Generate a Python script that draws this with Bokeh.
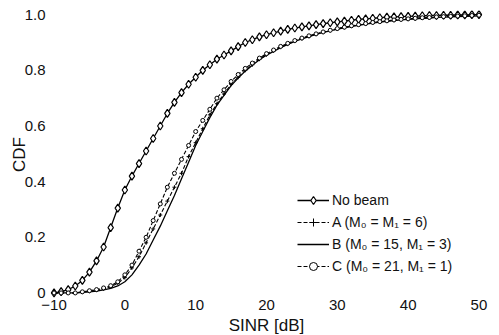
from bokeh.plotting import figure
from bokeh.models import Range1d, FixedTicker, Legend, LegendItem
from bokeh.embed import file_html
from bokeh.resources import INLINE

# SINR grid (dB)
sinr = list(range(-10, 51))

no_beam = [0.0, 0.005, 0.012, 0.025, 0.045, 0.075, 0.115, 0.165, 0.235, 0.305, 0.37,
           0.42, 0.465, 0.51, 0.555, 0.60, 0.645, 0.685, 0.72, 0.75, 0.775,
           0.80, 0.82, 0.84, 0.855, 0.87, 0.885, 0.90, 0.91, 0.92, 0.928,
           0.935, 0.941, 0.947, 0.952, 0.956, 0.960, 0.964, 0.968, 0.971, 0.974,
           0.977, 0.980, 0.983, 0.985, 0.987, 0.989, 0.991, 0.992, 0.993, 0.994,
           0.995, 0.996, 0.997, 0.997, 0.998, 0.998, 0.999, 0.999, 1.0, 1.0]

beam_a = [0.0, 0.0, 0.0, 0.0, 0.003, 0.006, 0.01, 0.015, 0.022, 0.035, 0.055,
          0.09, 0.13, 0.18, 0.23, 0.28, 0.33, 0.38, 0.43, 0.49, 0.54,
          0.59, 0.64, 0.68, 0.715, 0.75, 0.775, 0.80, 0.82, 0.84, 0.856,
          0.87, 0.883, 0.894, 0.905, 0.914, 0.922, 0.93, 0.937, 0.943, 0.949,
          0.954, 0.959, 0.963, 0.967, 0.971, 0.974, 0.977, 0.980, 0.982, 0.984,
          0.986, 0.988, 0.989, 0.991, 0.992, 0.993, 0.994, 0.995, 0.996, 0.997]

beam_b = [0.0, 0.0, 0.0, 0.0, 0.002, 0.004, 0.007, 0.011, 0.016, 0.025, 0.04,
          0.065, 0.10, 0.14, 0.19, 0.24, 0.295, 0.35, 0.41, 0.47, 0.53,
          0.58, 0.63, 0.675, 0.71, 0.745, 0.772, 0.797, 0.818, 0.838, 0.854,
          0.868, 0.881, 0.893, 0.904, 0.913, 0.921, 0.929, 0.936, 0.942, 0.948,
          0.953, 0.958, 0.962, 0.966, 0.970, 0.973, 0.976, 0.979, 0.981, 0.983,
          0.985, 0.987, 0.988, 0.990, 0.991, 0.992, 0.993, 0.994, 0.995, 0.996]

beam_c = [0.0, 0.0, 0.0, 0.0, 0.004, 0.008, 0.012, 0.018, 0.026, 0.04, 0.065,
          0.10, 0.15, 0.20, 0.26, 0.32, 0.38, 0.43, 0.48, 0.53, 0.58,
          0.62, 0.66, 0.70, 0.73, 0.76, 0.785, 0.807, 0.826, 0.844, 0.86,
          0.873, 0.886, 0.897, 0.907, 0.916, 0.924, 0.931, 0.938, 0.944, 0.950,
          0.955, 0.960, 0.964, 0.968, 0.972, 0.975, 0.978, 0.981, 0.983, 0.985,
          0.987, 0.989, 0.990, 0.992, 0.993, 0.994, 0.995, 0.996, 0.997, 0.998]

x_ticks = [-10, 0, 10, 20, 30, 40, 50]
y_ticks = [0, 0.2, 0.4, 0.6, 0.8, 1.0]
y_tick_labels = {0: "0", 0.2: "0.2", 0.4: "0.4", 0.6: "0.6", 0.8: "0.8", 1.0: "1.0"}

labels = ["No beam", "A (M\u2080 = M\u2081 = 6)", "B (M\u2080 = 15, M\u2081 = 3)", "C (M\u2080 = 21, M\u2081 = 1)"]

FONT = "Liberation Sans"

p = figure(frame_width=432, frame_height=288, output_backend="svg", toolbar_location=None,
           x_range=Range1d(-10.5, 50.5), y_range=Range1d(-0.02, 1.015),
           min_border_left=50, min_border_right=9, min_border_top=10, min_border_bottom=36)
p.outline_line_color = None
p.xgrid.visible = False
p.ygrid.visible = False

for ax in (p.xaxis[0], p.yaxis[0]):
    ax.axis_line_color = None
    ax.major_tick_line_color = None
    ax.minor_tick_line_color = None
    ax.major_tick_out = 0
    ax.major_tick_in = 0
    ax.major_label_text_font = FONT
    ax.major_label_text_font_size = "15px"
    ax.major_label_text_color = "#111111"
    ax.axis_label_text_font = FONT
    ax.axis_label_text_font_size = "17px"
    ax.axis_label_text_font_style = "normal"
    ax.axis_label_text_color = "#111111"

p.xaxis.ticker = FixedTicker(ticks=x_ticks)
p.yaxis.ticker = FixedTicker(ticks=y_ticks)
p.yaxis.major_label_overrides = y_tick_labels
p.xaxis.major_label_standoff = 1
p.yaxis.major_label_standoff = 5
p.xaxis.axis_label = "SINR [dB]"
p.yaxis.axis_label = "CDF"
p.xaxis.axis_label_standoff = 3
p.yaxis.axis_label_standoff = -7

# No beam
r_nb_l = p.line(sinr, no_beam, line_color="black", line_width=1.3)
r_nb_m = p.scatter(sinr, no_beam, marker="diamond", size=8, fill_color="white",
                   line_color="black", line_width=1.2)
# A
r_a_l = p.line(sinr, beam_a, line_color="black", line_width=1.1, line_dash="4 2")
r_a_m = p.scatter(sinr, beam_a, marker="cross", size=4, line_color="black", line_width=1)
# B
r_b_l = p.line(sinr, beam_b, line_color="black", line_width=1.3)
# C
r_c_l = p.line(sinr, beam_c, line_color="black", line_width=1.1, line_dash="4 2")
r_c_m = p.scatter(sinr, beam_c, marker="circle", size=4, fill_color="white",
                  line_color="black", line_width=1)

legend = Legend(items=[
    LegendItem(label=labels[0], renderers=[r_nb_l, r_nb_m]),
    LegendItem(label=labels[1], renderers=[r_a_l, r_a_m]),
    LegendItem(label=labels[2], renderers=[r_b_l]),
    LegendItem(label=labels[3], renderers=[r_c_l, r_c_m]),
], location=(247, 22), border_line_color=None, background_fill_alpha=0,
    padding=0, margin=0, spacing=2, glyph_width=32, glyph_height=20,
    label_standoff=3, label_text_font=FONT, label_text_font_size="14px",
    label_text_color="#111111", label_height=20)
p.add_layout(legend)

open("out.html", "w").write(file_html(p, INLINE))
